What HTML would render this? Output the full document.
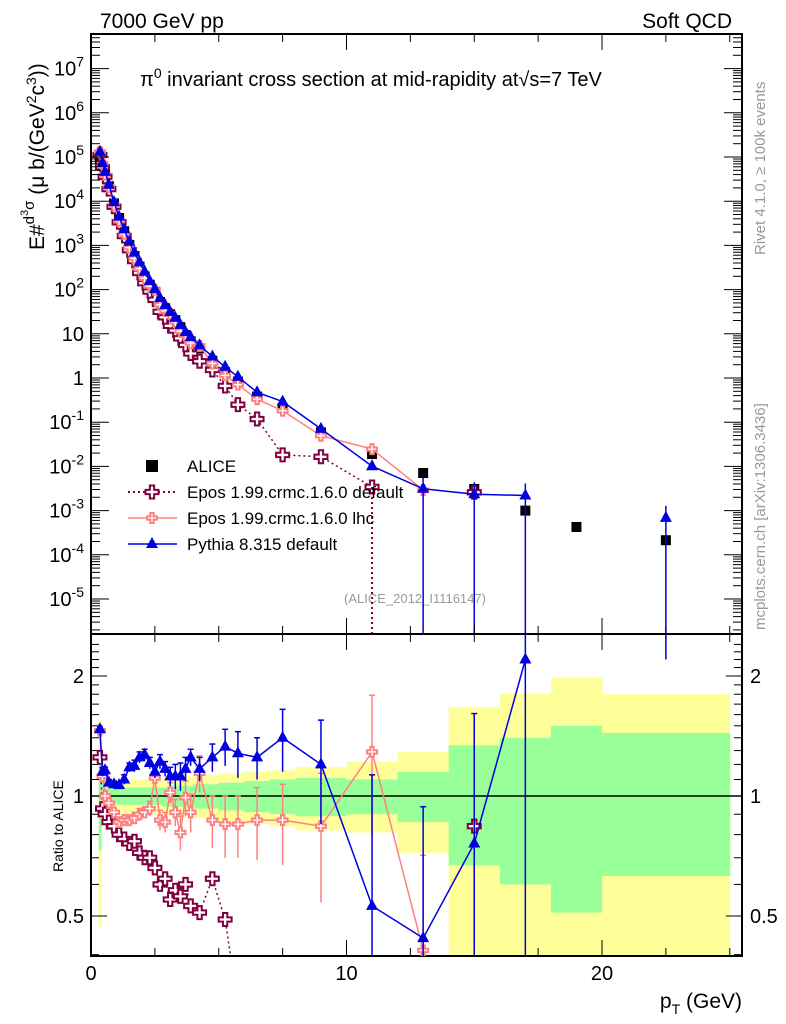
<!DOCTYPE html>
<html><head><meta charset="utf-8"><style>
html,body{margin:0;padding:0;background:#fff;width:786px;height:1024px;overflow:hidden;}
svg{display:block;font-family:"Liberation Sans",sans-serif;overflow:hidden;}
</style></head><body>
<svg id="c" width="786" height="1024" viewBox="0 0 786 1024">
<text x="100" y="28" font-size="21">7000 GeV pp</text>
<text x="732" y="28" font-size="21" text-anchor="end">Soft QCD</text>
<text x="140" y="86" font-size="20">π<tspan dy="-8" font-size="14">0</tspan><tspan dy="8"> invariant cross section at mid-rapidity at√s=7 TeV</tspan></text>
<g transform="translate(44,250) rotate(-90)"><text x="0" y="0" font-size="21">E#<tspan dy="-10" font-size="15">d</tspan><tspan font-size="11" dy="-6">3</tspan><tspan font-size="15" dy="6">σ</tspan><tspan dy="10" font-size="21"> (μ b/(GeV</tspan><tspan dy="-8" font-size="14">2</tspan><tspan dy="8">c</tspan><tspan dy="-8" font-size="14">3</tspan><tspan dy="8">))</tspan></text></g>
<text transform="translate(765,255) rotate(-90)" font-size="15" fill="#999">Rivet 4.1.0, ≥ 100k events</text>
<text transform="translate(765,630) rotate(-90)" font-size="15" fill="#999">mcplots.cern.ch [arXiv:1306.3436]</text>
<text x="415" y="603" font-size="13" fill="#999" text-anchor="middle">(ALICE_2012_I1116147)</text>
<text x="63" y="872" font-size="14" transform="rotate(-90,63,872)">Ratio to ALICE</text>
<text x="742" y="1008" font-size="21" text-anchor="end">p<tspan dy="6" font-size="14">T</tspan><tspan dy="-6"> (GeV)</tspan></text>
<g id="bands"></g><g id="grid"></g><g id="series"></g><g id="axes"></g><g id="legend"></g>
</svg>
<script>
const pts = [0.35,0.45,0.55,0.7,0.9,1.1,1.3,1.5,1.7,1.9,2.1,2.3,2.5,2.7,2.9,3.1,3.3,3.5,3.7,3.9,4.25,4.75,5.25,5.75,6.5,7.5,9,11,13,15,17,19,22.5];
const aliceLog = [4.95,4.8,4.6,4.34,3.95,3.62,3.32,3.01,2.76,2.52,2.30,2.11,1.95,1.72,1.58,1.44,1.31,1.15,0.97,0.83,0.67,0.39,0.13,-0.08,-0.42,-0.68,-1.23,-1.72,-2.15,-2.51,-3.0,-3.37,-3.67];
const pythiaRatio = [1.47,1.15,1.16,1.08,1.07,1.065,1.1,1.18,1.19,1.25,1.27,1.21,1.15,1.22,1.17,1.12,1.12,1.12,1.17,1.25,1.17,1.25,1.33,1.28,1.25,1.4,1.2,0.53,0.44,0.76,2.2,null,3.2];
const pythiaErr = [0.02,0.03,0.02,0.02,0.02,0.02,0.03,0.03,0.04,0.04,0.04,0.04,0.04,0.05,0.05,0.06,0.08,0.09,0.08,0.06,0.08,0.1,0.14,0.17,0.15,0.25,0.35,0.6,0.5,0.85,2,null,1];
const lhcRatio = [1.46,1.12,1.0,0.96,0.91,0.86,0.87,0.87,0.88,0.9,0.91,0.93,1.11,0.87,0.86,1.02,0.91,0.81,0.99,0.91,1.14,0.87,0.85,0.85,0.87,0.87,0.84,1.29,0.41,null,null,null,null];
const lhcErr = [0.02,0.02,0.02,0.02,0.02,0.02,0.02,0.02,0.03,0.03,0.03,0.04,0.04,0.05,0.05,0.06,0.07,0.08,0.1,0.1,0.12,0.13,0.15,0.15,0.18,0.2,0.3,0.5,0.3,null,null,null,null];
const defRatio = [1.25,0.93,0.9,0.86,0.84,0.8,0.78,0.76,0.77,0.72,0.7,0.7,0.66,0.6,0.62,0.55,0.58,0.56,0.6,0.53,0.51,0.62,0.49,0.3,0.31,0.087,0.28,0.18,null,0.84,null,null,null];
const bandEdges = [0.3,0.4,0.5,0.6,0.8,1,1.2,1.4,1.6,1.8,2,2.2,2.4,2.6,2.8,3,3.2,3.4,3.6,3.8,4,4.5,5,5.5,6,7,8,10,12,14,16,18,20,25];
const greenHi = [1.3,1.1,1.06,1.05,1.05,1.05,1.05,1.05,1.05,1.05,1.05,1.05,1.05,1.05,1.05,1.06,1.06,1.06,1.06,1.06,1.07,1.07,1.08,1.08,1.09,1.1,1.11,1.1,1.15,1.34,1.4,1.5,1.44];
const greenLo = [0.73,0.93,0.95,0.95,0.95,0.95,0.95,0.95,0.95,0.95,0.95,0.95,0.95,0.95,0.94,0.94,0.94,0.94,0.94,0.94,0.93,0.93,0.92,0.92,0.91,0.9,0.89,0.9,0.86,0.67,0.6,0.51,0.63];
const yellowHi = [1.55,1.2,1.12,1.1,1.1,1.1,1.1,1.1,1.1,1.1,1.1,1.1,1.1,1.1,1.1,1.11,1.11,1.11,1.12,1.12,1.12,1.13,1.14,1.14,1.15,1.16,1.18,1.22,1.29,1.67,1.81,1.98,1.8];
const yellowLo = [0.47,0.85,0.9,0.9,0.9,0.9,0.9,0.9,0.9,0.9,0.9,0.9,0.9,0.9,0.89,0.89,0.89,0.89,0.88,0.88,0.88,0.87,0.86,0.86,0.85,0.84,0.82,0.81,0.72,0.3,0.3,0.3,0.3];
const yTickExp = [-5,-4,-3,-2,-1,0,1,2,3,4,5,6,7];
const xTicks = [0,10,20];
const rTicks = [0.5,1,2];

const NS='http://www.w3.org/2000/svg';
const X0=91,X1=742,Y0=34,YM=634,YB=956;
const xs=v=>X0+v*25.55;
const yLog=l=>378-44.2*l;
const yr=r=>796-120*Math.log2(r);
const clampR=y=>Math.min(YB,Math.max(YM,y));
function mk(tag,attrs,parent){const e=document.createElementNS(NS,tag);for(const k in attrs)e.setAttribute(k,attrs[k]);parent.appendChild(e);return e;}
const svg=document.getElementById('c');
const G=id=>document.getElementById(id);
const defs=mk('defs',{},svg);
const cp1=mk('clipPath',{id:'cm'},defs);mk('rect',{x:X0,y:Y0,width:X1-X0,height:YM-Y0},cp1);
const cp2=mk('clipPath',{id:'cr'},defs);mk('rect',{x:X0,y:YM,width:X1-X0,height:YB-YM},cp2);
G('bands').setAttribute('clip-path','url(#cr)');
G('series').setAttribute('clip-path','url(#cm)');
for(let i=0;i<bandEdges.length-1;i++){
  const x=xs(bandEdges[i]),w=xs(bandEdges[i+1])-x;
  const y1=clampR(yr(yellowHi[i])),y2=clampR(yr(yellowLo[i]));
  const yb=mk('rect',{x:x,y:y1,width:w+0.5,height:y2-y1,fill:'#ffff99'},G('bands'));
  
  
  const g1=clampR(yr(greenHi[i])),g2=clampR(yr(greenLo[i]));
  const gb=mk('rect',{x:x,y:g1,width:w+0.5,height:g2-g1,fill:'#99ff99'},G('bands'));
  
  
}
mk('line',{x1:X0,x2:X1,y1:yr(1),y2:yr(1),stroke:'#000','stroke-width':1.5},G('bands'));
const gm=G('series');
const gr=mk('g',{'clip-path':'url(#cr)'},svg);
function tri(p,x,y,c){mk('polygon',{points:`${x},${y-7} ${x-6},${y+4} ${x+6},${y+4}`,fill:c},p);}
function cross(p,x,y,c,s){const a=s/3;mk('path',{d:`M${x-a},${y-s}h${2*a}v${2*a}h${2*a}v${2*a}h${-2*a}v${2*a}h${-2*a}v${-2*a}h${-2*a}v${-2*a}h${2*a}z`,fill:'#fff',stroke:c,'stroke-width':2},p);}
function path(p,pairs,c,dash,w){let d='';let pen=false;pairs.forEach(q=>{if(q==null){pen=false;return;}d+=(pen?'L':'M')+q[0].toFixed(1)+','+q[1].toFixed(1);pen=true;});mk('path',{d:d,fill:'none',stroke:c,'stroke-width':w||1.5,'stroke-dasharray':dash||''},p);}
const ga=mk('g',{},gm);
pts.forEach((p,i)=>{mk('rect',{x:xs(p)-5,y:yLog(aliceLog[i])-5,width:10,height:10,fill:'#000'},ga);});
function modelMain(ratio,c,dash,marker,name){
  const g=mk('g',{},gm);
  const pr=pts.map((p,i)=>ratio[i]==null?null:[xs(p),yLog(aliceLog[i]+Math.log10(ratio[i]))]);
  path(g,pr,c,dash);
  pr.forEach(q=>{if(q)marker(g,q[0],q[1]);});
  return g;
}
const gd=modelMain(defRatio,'#800040','2,3',(g,x,y)=>cross(g,x,y,'#800040',6.5),'epos-default-series');
mk('line',{x1:xs(11),x2:xs(11),y1:yLog(aliceLog[27]+Math.log10(0.18)),y2:YM,stroke:'#800040','stroke-width':2,'stroke-dasharray':'2,3'},gd);
const gl=modelMain(lhcRatio,'#ff8080','',(g,x,y)=>cross(g,x,y,'#ff8080',5),'epos-lhc-series');
const gp=modelMain(pythiaRatio,'#0000e0','',(g,x,y)=>tri(g,x,y,'#0000e0'),'pythia-series');
[28,29,30,32].forEach(i=>{mk('line',{x1:xs(pts[i]),x2:xs(pts[i]),y1:yLog(aliceLog[i]+Math.log10(pythiaRatio[i]))-12,y2:YM,stroke:'#0000e0','stroke-width':1.5},gp);});
function modelRatio(ratio,err,c,dash,marker,name){
  const g=mk('g',{},gr);
  const pr=pts.map((p,i)=>ratio[i]==null?null:[xs(p),yr(ratio[i])]);
  path(g,pr,c,dash);
  if(err)pts.forEach((p,i)=>{if(ratio[i]==null||err[i]==null)return;const x=xs(p);const lo=Math.max(ratio[i]-err[i],0.01);
    mk('line',{x1:x,x2:x,y1:clampR(yr(ratio[i]+err[i])),y2:clampR(yr(lo)),stroke:c,'stroke-width':1.5},g);
    mk('line',{x1:x-3,x2:x+3,y1:yr(ratio[i]+err[i]),y2:yr(ratio[i]+err[i]),stroke:c,'stroke-width':1.5},g);});
  pr.forEach(q=>{if(q)marker(g,q[0],q[1]);});
}
modelRatio(defRatio,null,'#800040','2,3',(g,x,y)=>cross(g,x,y,'#800040',6.5),'epos-default-ratio');
modelRatio(lhcRatio,lhcErr,'#ff8080','',(g,x,y)=>cross(g,x,y,'#ff8080',5),'epos-lhc-ratio');
modelRatio(pythiaRatio,pythiaErr,'#0000e0','',(g,x,y)=>tri(g,x,y,'#0000e0'),'pythia-ratio');
const ax=G('axes');
mk('rect',{x:X0,y:Y0,width:X1-X0,height:YB-Y0,fill:'none',stroke:'#000','stroke-width':2},ax);
mk('line',{x1:X0,x2:X1,y1:YM,y2:YM,stroke:'#000','stroke-width':2},ax);
for(let v=0;v<=25;v+=2.5){const x=xs(v);const L=(v%10===0)?16:8;
  [[Y0,1],[YM,-1],[YM,1],[YB,-1]].forEach(([y,s])=>mk('line',{x1:x,x2:x,y1:y,y2:y+s*L,stroke:'#000','stroke-width':1},ax));}
xTicks.forEach(v=>{const t=mk('text',{x:xs(v),y:980,'font-size':20,'text-anchor':'middle'},ax);t.textContent=v;
  
  });
for(let e=-6;e<=7;e++){for(let m=1;m<10;m++){const l=e+Math.log10(m);const y=yLog(l);if(y<Y0||y>YM)continue;const L=m===1?18:9;
  mk('line',{x1:X0,x2:X0+L,y1:y,y2:y,stroke:'#000','stroke-width':1},ax);mk('line',{x1:X1,x2:X1-L,y1:y,y2:y,stroke:'#000','stroke-width':1},ax);}}
yTickExp.forEach(e=>{const y=yLog(e);const t=mk('text',{x:84,y:y+7,'font-size':20,'text-anchor':'end'},ax);
  
  
  if(e===0)t.textContent='1';else if(e===1)t.textContent='10';else{t.textContent='10';const s=mk('tspan',{dy:-9,'font-size':14},t);s.textContent=e;}});
for(let r=0.4;r<=2.5;r+=0.1){const y=yr(r);if(y<YM||y>YB)continue;const maj=[0.5,1,2].some(v=>Math.abs(v-r)<1e-6);const L=maj?16:8;
  mk('line',{x1:X0,x2:X0+L,y1:y,y2:y,stroke:'#000'},ax);mk('line',{x1:X1,x2:X1-L,y1:y,y2:y,stroke:'#000'},ax);}
rTicks.forEach(r=>{const y=yr(r)+7;[[84,'end'],[750,'start']].forEach(([x,a])=>{const t=mk('text',{x:x,y:y,'font-size':20,'text-anchor':a},ax);t.textContent=r;
  
  });});
const lg=G('legend');
const items=[['ALICE','alice'],['Epos 1.99.crmc.1.6.0 default','def'],['Epos 1.99.crmc.1.6.0 lhc','lhc'],['Pythia 8.315 default','py']];
items.forEach((it,i)=>{const y=466+i*26;const g=mk('g',{},lg);
  
  
  const cx=152;
  if(it[1]==='alice')mk('rect',{x:cx-6,y:y-6,width:12,height:12,fill:'#000'},g);
  if(it[1]==='def'){mk('line',{x1:128,x2:177,y1:y,y2:y,stroke:'#800040','stroke-width':2,'stroke-dasharray':'2,3'},g);cross(g,cx,y,'#800040',6.5);}
  if(it[1]==='lhc'){mk('line',{x1:128,x2:177,y1:y,y2:y,stroke:'#ff8080','stroke-width':1.5},g);cross(g,cx,y,'#ff8080',5);}
  if(it[1]==='py'){mk('line',{x1:128,x2:177,y1:y,y2:y,stroke:'#0000e0','stroke-width':1.5},g);tri(g,cx,y,'#0000e0');}
  const t=mk('text',{x:187,y:y+6,'font-size':17},g);t.textContent=it[0];});
</script>
</body></html>
